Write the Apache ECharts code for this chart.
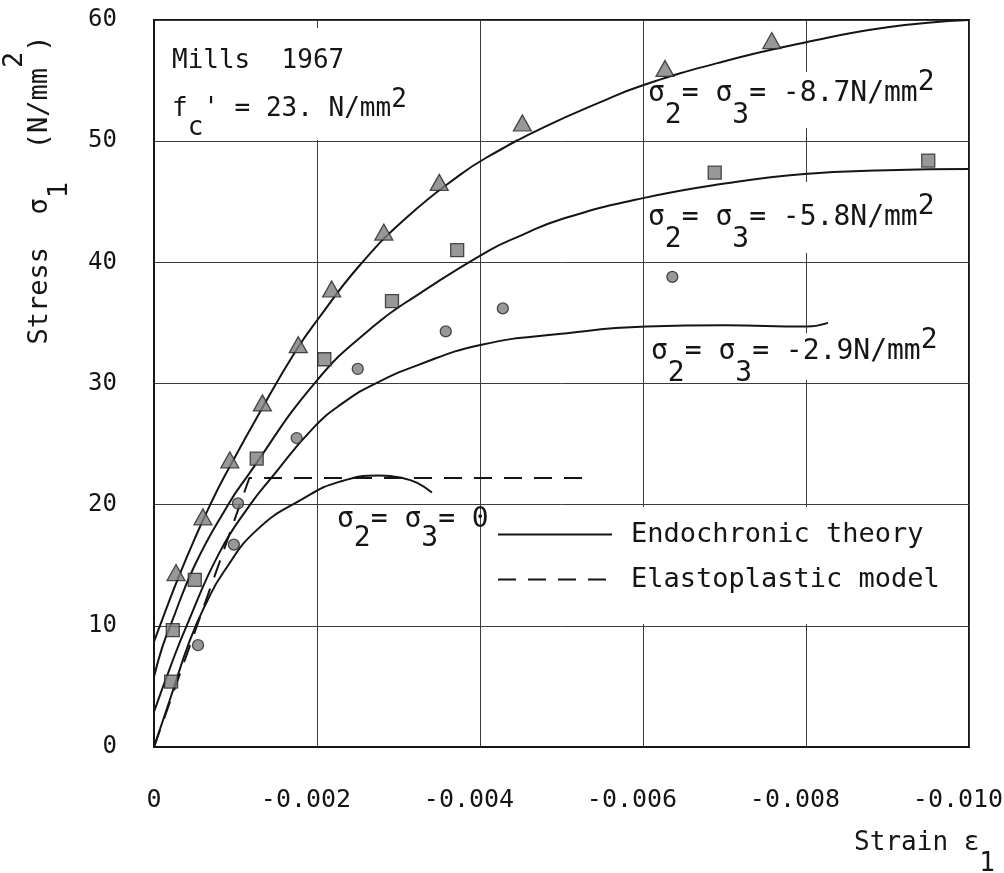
<!DOCTYPE html>
<html>
<head>
<meta charset="utf-8">
<script src="https://cdn.jsdelivr.net/npm/echarts@6/dist/echarts.min.js"></script>
<style>
html,body{margin:0;padding:0;background:#fff;}
#c{width:1004px;height:873px;}
</style>
</head>
<body>
<div id="c"></div>
<script>
// ---------- data ----------
const xTickLabels = ['0', '-0.002', '-0.004', '-0.006', '-0.008', '-0.010'];
const yTickLabels = ['0', '10', '20', '30', '40', '50', '60'];

// test points: sigma2 = sigma3 = -8.7 N/mm2 (triangles)
const triStrain = [-0.00027, -0.00060, -0.00093, -0.00133, -0.00177, -0.00218, -0.00282, -0.00350, -0.00452, -0.00627, -0.00758];
const triStress = [14.4, 19.0, 23.7, 28.4, 33.2, 37.8, 42.5, 46.6, 51.5, 56.0, 58.3];
// test points: sigma2 = sigma3 = -5.8 N/mm2 (squares)
const sqStrain = [-0.00021, -0.00023, -0.00050, -0.00126, -0.00209, -0.00292, -0.00372, -0.00688, -0.00950];
const sqStress = [5.4, 9.65, 13.8, 23.8, 32.0, 36.8, 41.0, 47.4, 48.4];
// test points: sigma2 = sigma3 = 0 and -2.9 N/mm2 (circles)
const circStrain = [-0.00054, -0.00098, -0.00103, -0.00175, -0.00250, -0.00358, -0.00428, -0.00636];
const circStress = [8.4, 16.7, 20.1, 25.5, 31.2, 34.3, 36.2, 38.8];

// endochronic theory curves
const curveAStrain = [0, -0.0001, -0.0003, -0.0005, -0.00069, -0.00087, -0.00133, -0.00175, -0.0020, -0.00253, -0.0031, -0.00375, -0.00412, -0.0048, -0.00547, -0.00599, -0.0070, -0.00796, -0.0090, -0.0100];
const curveAStress = [8.7, 10.5, 14.0, 17.2, 20.0, 22.4, 28.0, 32.8, 35.2, 39.8, 43.7, 47.2, 48.8, 51.2, 53.2, 54.6, 56.6, 58.1, 59.4, 60.0];
const curveBStrain = [0, -0.0001, -0.0002, -0.0005, -0.00091, -0.00114, -0.00198, -0.00269, -0.00323, -0.00412, -0.0045, -0.00497, -0.0060, -0.0070, -0.00798, -0.0090, -0.0100];
const curveBStress = [5.8, 8.2, 10.0, 15.0, 20.0, 22.3, 30.1, 34.7, 37.3, 41.0, 42.2, 43.5, 45.3, 46.5, 47.3, 47.6, 47.7];
const curveCStrain = [0, -0.0002, -0.0004, -0.0008, -0.00118, -0.00145, -0.00195, -0.00232, -0.00269, -0.00323, -0.00402, -0.0050, -0.00604, -0.0070, -0.00801, -0.00827];
const curveCStress = [2.9, 6.6, 10.0, 16.0, 20.0, 22.3, 26.3, 28.4, 29.9, 31.5, 33.2, 34.1, 34.7, 34.8, 34.7, 35.0];
const curveDStrain = [0, -0.00007, -0.0002, -0.00044, -0.00065, -0.00085, -0.00126, -0.00183, -0.00228, -0.00277, -0.00305, -0.00323, -0.00341];
const curveDStress = [0, 1.4, 4.0, 8.8, 12.0, 14.4, 17.9, 20.5, 21.9, 22.4, 22.2, 21.8, 21.0];
// elastoplastic model
const epStrain = [0, -0.00117, -0.00535];
const epStress = [0, 22.2, 22.2];

// ---------- chart ----------
const FM = "'DejaVu Sans Mono', 'DejaVu Sans', monospace";
const INK = '#151515';
const pts = (xs, ys) => xs.map((x, i) => [x, ys[i]]);

const chart = echarts.init(document.getElementById('c'), null, {renderer: 'canvas', width: 1004, height: 873});

const curveStyle = {
  type: 'line', name: 'Endochronic theory', symbol: 'none', showSymbol: false,
  smooth: 0.5, silent: true, z: 2,
  lineStyle: {color: INK, width: 2}, itemStyle: {color: INK}
};
const markerStyle = {color: '#7e7e7e', borderColor: '#262626', borderWidth: 1.3};

function rich(fs, subPad, supPad) {
  return {
    b: {fontFamily: FM, fontSize: fs, fill: INK, padding: [subPad, 0, 0, 0]},
    p: {fontFamily: FM, fontSize: fs, fill: INK, padding: [0, 0, supPad, 0]}
  };
}
function label(text, x, y, fs, subPad, supPad) {
  return {
    type: 'text', x: x, y: y, z: 5, silent: true,
    style: {text: text, fontFamily: FM, fontSize: fs, fill: INK, align: 'left', verticalAlign: 'middle', rich: rich(fs, subPad, supPad)}
  };
}
function whiteBox(x, y, w, h) {
  return {type: 'rect', z: 1, silent: true, shape: {x: x, y: y, width: w, height: h}, style: {fill: '#fff'}};
}

const option = {
  animation: false,
  backgroundColor: '#fff',
  grid: {left: 154, top: 20, right: 35, bottom: 126, show: true, borderColor: INK, borderWidth: 2, containLabel: false, outerBoundsMode: 'none'},
  xAxis: {
    type: 'value', min: -0.010, max: 0, interval: 0.002, inverse: true,
    axisLine: {show: true, onZero: false, lineStyle: {color: INK, width: 2}},
    axisTick: {show: false},
    splitLine: {show: true, lineStyle: {color: '#3c3c3c', width: 1}},
    axisLabel: {
      margin: 41, color: INK, fontFamily: FM, fontSize: 25,
      formatter: v => {
        const t = xTickLabels[Math.round(Math.abs(v) / 0.002)];
        return t === '0' ? '{z|' + t + '}' : '{n|' + t + '}';
      },
      rich: {
        z: {fontFamily: FM, fontSize: 25, color: INK},
        n: {fontFamily: FM, fontSize: 25, color: INK, padding: [0, 22, 0, 0]}
      }
    }
  },
  yAxis: {
    type: 'value', min: 0, max: 60, interval: 10,
    axisLine: {show: true, onZero: false, lineStyle: {color: INK, width: 2}},
    axisTick: {show: false},
    splitLine: {show: true, lineStyle: {color: '#3c3c3c', width: 1}},
    axisLabel: {
      margin: 37, color: INK, fontFamily: FM, fontSize: 24,
      formatter: v => yTickLabels[Math.round(v / 10)]
    }
  },
  legend: {
    data: ['Endochronic theory', 'Elastoplastic model'],
    orient: 'vertical', left: 484, top: 507,
    itemWidth: 114, itemHeight: 14, itemGap: 18,
    padding: [14, 28, 31, 13],
    backgroundColor: '#fff', selectedMode: false,
    itemStyle: {opacity: 0},
    textStyle: {fontFamily: FM, fontSize: 27, color: INK, lineHeight: 27, padding: [0, 0, 0, 14]}
  },
  series: [
    Object.assign({}, curveStyle, {data: pts(curveAStrain, curveAStress)}),
    Object.assign({}, curveStyle, {data: pts(curveBStrain, curveBStress)}),
    Object.assign({}, curveStyle, {data: pts(curveCStrain, curveCStress)}),
    Object.assign({}, curveStyle, {data: pts(curveDStrain, curveDStress)}),
    {
      type: 'line', name: 'Elastoplastic model', symbol: 'none', showSymbol: false, silent: true, z: 2,
      lineStyle: {color: INK, width: 2, type: [18, 12]}, itemStyle: {color: INK},
      data: pts(epStrain, epStress)
    },
    {type: 'scatter', name: 'Test -8.7', symbol: 'triangle', symbolSize: [18, 16], z: 3, silent: true, itemStyle: markerStyle, data: pts(triStrain, triStress)},
    {type: 'scatter', name: 'Test -5.8', symbol: 'rect', symbolSize: 13, z: 3, silent: true, itemStyle: markerStyle, data: pts(sqStrain, sqStress)},
    {type: 'scatter', name: 'Test -2.9 / 0', symbol: 'circle', symbolSize: 11, z: 3, silent: true, itemStyle: markerStyle, data: pts(circStrain, circStress)}
  ],
  graphic: [
    whiteBox(160, 28, 280, 112),
    whiteBox(655, 72, 300, 56),
    whiteBox(655, 182, 300, 71),
    whiteBox(655, 333, 300, 47),
    label('Mills  1967', 172, 61, 26, 38, 18),
    label("f{b|c}' = 23. N/mm{p|2}", 172, 109, 26, 38, 18),
    label('σ{b|2}= σ{b|3}= -8.7N/mm{p|2}', 648, 94, 28, 44, 22),
    label('σ{b|2}= σ{b|3}= -5.8N/mm{p|2}', 648, 218, 28, 44, 22),
    label('σ{b|2}= σ{b|3}= -2.9N/mm{p|2}', 651, 352, 28, 44, 22),
    label('σ{b|2}= σ{b|3}= 0', 337, 520, 28, 38, 22),
    {
      type: 'text', x: 40, y: 190, rotation: Math.PI / 2, z: 5, silent: true,
      style: {text: 'Stress  σ{b|1}  (N/mm{p|2})', fontFamily: FM, fontSize: 27, fill: INK, align: 'center', verticalAlign: 'middle', rich: rich(27, 40, 50)}
    },
    {
      type: 'text', x: 995, y: 843, z: 5, silent: true,
      style: {text: 'Strain ε{b|1}', fontFamily: FM, fontSize: 26, fill: INK, align: 'right', verticalAlign: 'middle', rich: rich(26, 42, 0)}
    }
  ]
};
chart.setOption(option);
</script>
</body>
</html>
